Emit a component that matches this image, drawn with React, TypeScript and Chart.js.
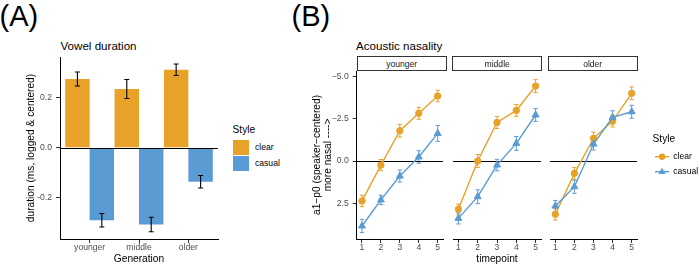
import React, { useEffect, useRef } from "react";
import { Chart, registerables } from "chart.js";

Chart.register(...registerables);

const FONT = "'Liberation Sans', Arial, Helvetica, sans-serif";
Chart.defaults.font.family = FONT;

const ORANGE = "#E8A229";
const BLUE = "#5A9BD4";
const TICK_COLOR = "#4D4D4D";

// ---- Panel A data: vowel duration ----
const generations = ["younger", "middle", "older"];
const durClear = [0.275, 0.235, 0.312];
const durClearSE = [0.028, 0.038, 0.023];
const durCasual = [-0.29, -0.307, -0.136];
const durCasualSE = [0.027, 0.029, 0.025];
const durTicks = [-0.2, 0, 0.2];

// ---- Panel B data: acoustic nasality ----
const timepoints = [1, 2, 3, 4, 5];
const nasTicks = [-5, -2.5, 0, 2.5];
const youngerClear = [2.36, 0.24, -1.79, -2.82, -3.84];
const youngerClearSE = [0.34, 0.33, 0.37, 0.35, 0.34];
const youngerCasual = [3.84, 2.3, 0.89, -0.24, -1.63];
const youngerCasualSE = [0.39, 0.28, 0.36, 0.37, 0.47];
const middleClear = [2.85, 0.0, -2.28, -2.99, -4.43];
const middleClearSE = [0.3, 0.38, 0.36, 0.35, 0.38];
const middleCasual = [3.39, 2.11, 0.24, -1.04, -2.72];
const middleCasualSE = [0.33, 0.41, 0.34, 0.41, 0.38];
const olderClear = [3.15, 0.73, -1.34, -2.36, -4.0];
const olderClearSE = [0.34, 0.35, 0.37, 0.35, 0.38];
const olderCasual = [2.66, 1.52, -1.0, -2.58, -2.91];
const olderCasualSE = [0.33, 0.39, 0.35, 0.39, 0.38];

function drawErr(chart: any, opts: any) {
  const ctx = chart.ctx;
  const yScale = chart.scales.y;
  chart.data.datasets.forEach((ds: any, i: number) => {
    const errs = ds.errors;
    if (!errs) return;
    const meta = chart.getDatasetMeta(i);
    ctx.save();
    ctx.strokeStyle = opts.color || ds.borderColor;
    ctx.lineWidth = opts.width ?? 1;
    meta.data.forEach((el: any, j: number) => {
      const v = ds.data[j].y;
      const e = errs[j];
      const y1 = yScale.getPixelForValue(v - e);
      const y2 = yScale.getPixelForValue(v + e);
      const x = el.x;
      const c = opts.cap ?? 2.5;
      ctx.beginPath();
      ctx.moveTo(x, y1);
      ctx.lineTo(x, y2);
      ctx.moveTo(x - c, y1);
      ctx.lineTo(x + c, y1);
      ctx.moveTo(x - c, y2);
      ctx.lineTo(x + c, y2);
      ctx.stroke();
    });
    ctx.restore();
  });
}

const errorBars = {
  id: "errorBars",
  beforeDatasetsDraw(chart: any, _a: any, opts: any) {
    if (opts.phase === "before") drawErr(chart, opts);
  },
  afterDatasetsDraw(chart: any, _a: any, opts: any) {
    if (opts.phase !== "before") drawErr(chart, opts);
  },
};

function drawZero(chart: any) {
  const ctx = chart.ctx;
  const y = Math.round(chart.scales.y.getPixelForValue(0)) + 0.5;
  const { left, right } = chart.chartArea;
  ctx.save();
  ctx.strokeStyle = "#000";
  ctx.lineWidth = 1;
  ctx.beginPath();
  ctx.moveTo(left, y);
  ctx.lineTo(right, y);
  ctx.stroke();
  ctx.restore();
}

const zeroLine = {
  id: "zeroLine",
  beforeDatasetsDraw(chart: any, _a: any, opts: any) {
    if (opts.phase === "before") drawZero(chart);
  },
  afterDatasetsDraw(chart: any, _a: any, opts: any) {
    if (opts.phase !== "before") drawZero(chart);
  },
};

const tickFont = { size: 8.6, lineHeight: 1.0 };
const titleFont = { size: 10.2, lineHeight: 1.2 };

function makeDuration() {
  return {
    type: "bar",
    data: {
      datasets: [
        {
          label: "clear",
          data: generations.map((_, i) => ({ x: i + 1, y: durClear[i] })),
          backgroundColor: ORANGE,
          errors: durClearSE,
        },
        {
          label: "casual",
          data: generations.map((_, i) => ({ x: i + 1, y: durCasual[i] })),
          backgroundColor: BLUE,
          errors: durCasualSE,
        },
      ],
    },
    options: {
      animation: false,
      responsive: false,
      devicePixelRatio: 1,
      layout: { padding: { left: 0, top: 57, right: 7, bottom: 0 } },
      datasets: { bar: { categoryPercentage: 0.99, barPercentage: 1 } },
      plugins: {
        legend: { display: false },
        tooltip: { enabled: false },
        errorBars: { phase: "after", color: "#000", width: 1.1, cap: 2.5 },
        zeroLine: { phase: "after" },
      },
      scales: {
        x: {
          type: "linear",
          min: 0.4,
          max: 3.6,
          offset: false,
          afterBuildTicks: (s: any) => {
            s.ticks = generations.map((_, i) => ({ value: i + 1 }));
          },
          afterFit: (s: any) => {
            s.height = 27;
          },
          ticks: {
            callback: (v: number) => generations[Math.round(v) - 1],
            color: TICK_COLOR,
            font: tickFont,
            padding: 0,
            autoSkip: false,
            maxRotation: 0,
          },
          grid: { drawOnChartArea: false, drawTicks: true, tickLength: 4, tickColor: "#333", offset: false },
          border: { display: true, color: "#000", width: 1 },
          title: { display: true, text: "Generation", color: "#000", font: titleFont, padding: { top: 0, bottom: 1 } },
        },
        y: {
          type: "linear",
          min: -0.365,
          max: 0.363,
          afterBuildTicks: (s: any) => {
            s.ticks = durTicks.map((v) => ({ value: v }));
          },
          afterFit: (s: any) => {
            s.width = 60;
          },
          ticks: {
            callback: (v: number) => (v < 0 ? "-" : "") + Math.abs(v).toFixed(1),
            color: TICK_COLOR,
            font: tickFont,
            padding: 4,
          },
          grid: { drawOnChartArea: false, drawTicks: true, tickLength: 4, tickColor: "#333" },
          border: { display: true, color: "#000", width: 1 },
          title: {
            display: true,
            text: "duration (ms, logged & centered)",
            color: "#000",
            font: titleFont,
            padding: { top: 25, bottom: 0 },
          },
        },
      },
    },
    plugins: [errorBars, zeroLine],
  };
}

function makeFacet(
  clear: number[],
  clearSE: number[],
  casual: number[],
  casualSE: number[],
  o: { showY: boolean; showTitle: boolean; padLeft: number; padRight: number }
) {
  return {
    type: "line",
    data: {
      datasets: [
        {
          label: "clear",
          data: timepoints.map((t, i) => ({ x: t, y: clear[i] })),
          borderColor: ORANGE,
          backgroundColor: ORANGE,
          pointStyle: "circle",
          pointRadius: 3.2,
          pointBorderWidth: 1,
          borderWidth: 1.4,
          tension: 0,
          order: 1,
          errors: clearSE,
        },
        {
          label: "casual",
          data: timepoints.map((t, i) => ({ x: t, y: casual[i] })),
          borderColor: BLUE,
          backgroundColor: BLUE,
          pointStyle: "triangle",
          pointRadius: 4,
          pointBorderWidth: 1,
          borderWidth: 1.4,
          tension: 0,
          order: 0,
          errors: casualSE,
        },
      ],
    },
    options: {
      animation: false,
      responsive: false,
      devicePixelRatio: 1,
      layout: { padding: { left: o.padLeft, top: 71, right: o.padRight, bottom: 0 } },
      plugins: {
        legend: { display: false },
        tooltip: { enabled: false },
        errorBars: { phase: "before", width: 1, cap: 2.2 },
        zeroLine: { phase: "before" },
      },
      scales: {
        x: {
          type: "linear",
          min: 0.72,
          max: 5.28,
          afterBuildTicks: (s: any) => {
            s.ticks = timepoints.map((t) => ({ value: t }));
          },
          afterFit: (s: any) => {
            s.height = 27;
          },
          ticks: {
            callback: (v: number) => String(v),
            color: TICK_COLOR,
            font: tickFont,
            padding: 0,
            autoSkip: false,
            maxRotation: 0,
          },
          grid: { drawOnChartArea: false, drawTicks: true, tickLength: 4, tickColor: "#333" },
          border: { display: true, color: "#000", width: 1 },
          title: {
            display: o.showTitle,
            text: "timepoint",
            color: "#000",
            font: titleFont,
            padding: { top: 0, bottom: 1 },
          },
        },
        y: {
          type: "linear",
          display: o.showY,
          reverse: true,
          min: -5.32,
          max: 4.61,
          afterBuildTicks: (s: any) => {
            s.ticks = nasTicks.map((v) => ({ value: v }));
          },
          afterFit: (s: any) => {
            s.width = o.showY ? 76.7 : 0;
          },
          ticks: {
            callback: (v: number) => (v < 0 ? "\u2212" : "") + Math.abs(v).toFixed(1),
            color: TICK_COLOR,
            font: tickFont,
            padding: 4,
          },
          grid: { drawOnChartArea: false, drawTicks: true, tickLength: 4, tickColor: "#333" },
          border: { display: true, color: "#000", width: 1 },
          title: {
            display: true,
            text: ["a1\u2212p0 (speaker\u2212centered)", "more nasal ---->"],
            color: "#000",
            font: { size: 10.2, lineHeight: 1.13 },
            padding: { top: 31, bottom: 0 },
          },
        },
      },
    },
    plugins: [errorBars, zeroLine],
  };
}

function ChartCanvas(props: { left: number; top: number; width: number; height: number; make: () => any }) {
  const ref = useRef<HTMLCanvasElement>(null);
  useEffect(() => {
    const chart = new Chart(ref.current as HTMLCanvasElement, props.make());
    return () => chart.destroy();
  }, []);
  return (
    <canvas
      ref={ref}
      width={props.width}
      height={props.height}
      style={{ position: "absolute", left: props.left, top: props.top, width: props.width, height: props.height }}
    />
  );
}

function Txt(props: { x: number; y: number; size: number; color?: string; children: any }) {
  return (
    <div
      style={{
        position: "absolute",
        left: props.x,
        top: props.y,
        fontSize: props.size,
        lineHeight: 1,
        color: props.color || "#000",
        fontFamily: FONT,
        whiteSpace: "nowrap",
      }}
    >
      {props.children}
    </div>
  );
}

function Strip(props: { left: number; width: number; label: string }) {
  return (
    <div
      style={{
        position: "absolute",
        left: props.left,
        top: 56,
        width: props.width,
        height: 15,
        boxSizing: "border-box",
        border: "1px solid #333",
        background: "#fff",
        display: "flex",
        alignItems: "center",
        justifyContent: "center",
        fontFamily: FONT,
        fontSize: 8.6,
        color: "#1A1A1A",
      }}
    >
      {props.label}
    </div>
  );
}

export default function App() {
  return (
    <div
      style={{
        position: "absolute",
        left: 0,
        top: 0,
        width: 700,
        height: 266,
        overflow: "hidden",
        background: "#fff",
        fontFamily: FONT,
      }}
    >
      <Txt x={-0.5} y={2} size={29}>(A)</Txt>
      <Txt x={291.6} y={2} size={29}>(B)</Txt>
      <Txt x={60.5} y={40.2} size={11.6}>Vowel duration</Txt>
      <Txt x={356} y={40.2} size={11.6}>Acoustic nasality</Txt>

      <ChartCanvas left={0} top={0} width={225} height={266} make={makeDuration} />

      {/* Legend A */}
      <Txt x={232.5} y={125.4} size={10.2}>Style</Txt>
      <div style={{ position: "absolute", left: 233, top: 140, width: 16.3, height: 15.3, background: ORANGE }} />
      <div style={{ position: "absolute", left: 233, top: 155.7, width: 16.3, height: 15.3, background: BLUE }} />
      <Txt x={255} y={142.7} size={8.6}>clear</Txt>
      <Txt x={255} y={159.4} size={8.6}>casual</Txt>

      {/* Panel B facets */}
      <ChartCanvas
        left={280}
        top={0}
        width={168}
        height={266}
        make={() =>
          makeFacet(youngerClear, youngerClearSE, youngerCasual, youngerCasualSE, {
            showY: true,
            showTitle: false,
            padLeft: 0,
            padRight: 1.3,
          })
        }
      />
      <ChartCanvas
        left={448}
        top={0}
        width={98}
        height={266}
        make={() =>
          makeFacet(middleClear, middleClearSE, middleCasual, middleCasualSE, {
            showY: false,
            showTitle: true,
            padLeft: 4.2,
            padRight: 3.8,
          })
        }
      />
      <ChartCanvas
        left={545}
        top={0}
        width={97}
        height={266}
        make={() =>
          makeFacet(olderClear, olderClearSE, olderCasual, olderCasualSE, {
            showY: false,
            showTitle: false,
            padLeft: 2.7,
            padRight: 4.3,
          })
        }
      />
      <Strip left={356.7} width={90} label="younger" />
      <Strip left={452.2} width={90} label="middle" />
      <Strip left={547.7} width={90} label="older" />

      {/* Legend B */}
      <Txt x={652.5} y={133.7} size={10.2}>Style</Txt>
      <svg style={{ position: "absolute", left: 650, top: 148, width: 24, height: 32 }} width={24} height={32}>
        <line x1={5} y1={8.7} x2={19} y2={8.7} stroke={ORANGE} strokeWidth={1.4} />
        <circle cx={12} cy={8.7} r={3.2} fill={ORANGE} />
        <line x1={5} y1={23.7} x2={19} y2={23.7} stroke={BLUE} strokeWidth={1.4} />
        <polygon points="12,19.7 15.6,26 8.4,26" fill={BLUE} />
      </svg>
      <Txt x={673.3} y={151.7} size={8.6}>clear</Txt>
      <Txt x={673.3} y={167} size={8.6}>casual</Txt>
    </div>
  );
}
